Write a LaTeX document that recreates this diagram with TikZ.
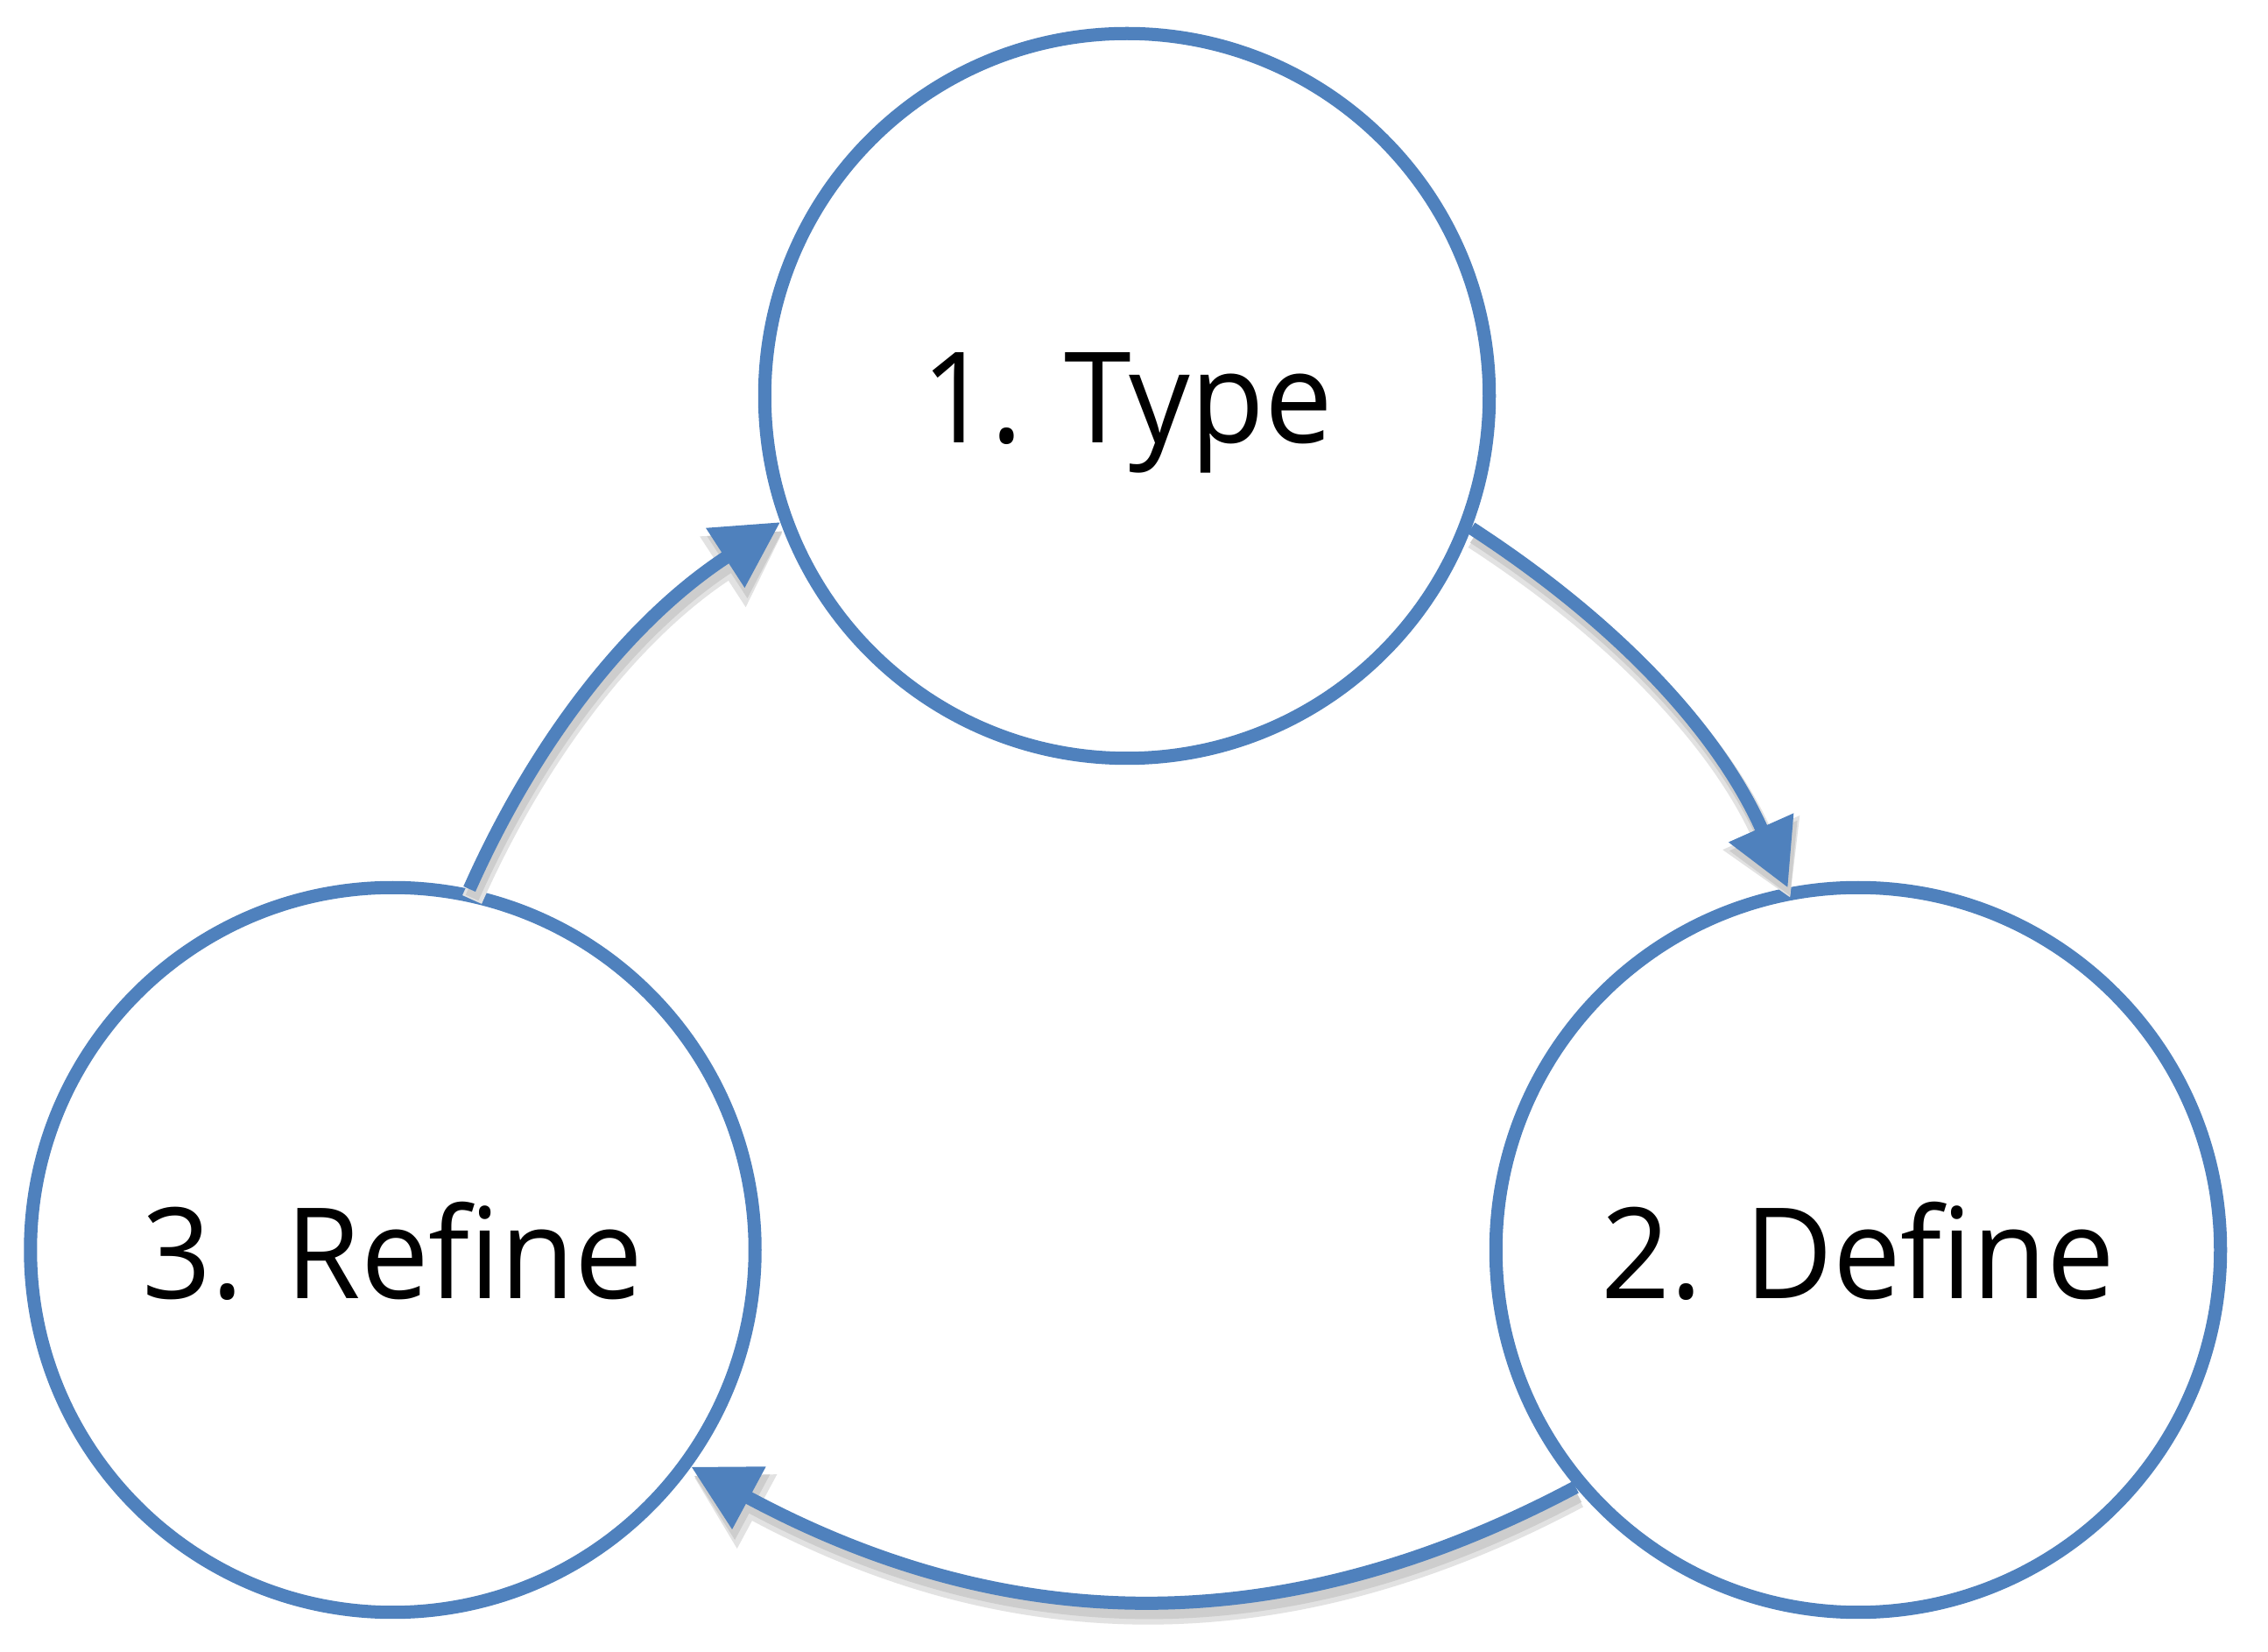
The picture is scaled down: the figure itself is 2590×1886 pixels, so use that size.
\documentclass[tikz,border=0pt]{standalone}
\usepackage{fontspec}
\setmainfont[Ligatures=NoCommon]{Open Sans}
\usetikzlibrary{arrows.meta}
\definecolor{cycblue}{HTML}{4F81BD}
\definecolor{shadowgray}{HTML}{CDCDCD}
\definecolor{shadowlight}{HTML}{E2E2E2}
\begin{document}
\begin{tikzpicture}[x=0.01cm,y=-0.01cm,
  stage/.style={circle, draw=cycblue, line width=0.15cm, minimum size=8.27cm, inner sep=0pt},
  lbl/.style={anchor=base, inner sep=0pt, xscale=0.96, font=\fontsize{41}{50}\selectfont},
  flow/.style={draw=cycblue, line width=0.15cm, -{Triangle[length=0.75cm,width=0.77cm]}},
  flowshadow/.style={draw=shadowgray, line width=0.16cm, -{Triangle[length=0.76cm,width=0.8cm]}, transform canvas={shift={(0.03cm,-0.1cm)}}},
  flowhalo/.style={draw=shadowlight, line width=0.24cm, -{Triangle[length=0.82cm,width=0.9cm]}, transform canvas={shift={(0.03cm,-0.12cm)}}},
  arcish/.style={looseness=0.92}
]
\useasboundingbox (0,0) rectangle (2590,1886);
\fill[white] (0,0) rectangle (2590,1886);
\node[stage] (type) at (1287,452) {};
\node[stage] (define) at (2122,1427) {};
\node[stage] (refine) at (448.5,1427) {};
\node[lbl] (typelbl) at ([yshift=-0.53cm]type.center) {1. Type};
\node[lbl] (definelbl) at ([yshift=-0.55cm]define.center) {2. Define};
\node[lbl] (refinelbl) at ([yshift=-0.55cm]refine.center) {3. Refine};
% shadows
\draw[flowhalo] (type.-21.3) to[out=-33,in=114,arcish] (define.101.9);
\draw[flowhalo] (define.220.1) to[out=208,in=-28.3] (refine.-36.5);
\draw[flowhalo] (refine.78.3) to[out=66,in=213,arcish] (type.200.8);
\draw[flowshadow] (type.-21.3) to[out=-33,in=114,arcish] (define.101.9);
\draw[flowshadow] (define.220.1) to[out=208,in=-28.3] (refine.-36.5);
\draw[flowshadow] (refine.78.3) to[out=66,in=213,arcish] (type.200.8);
% arrows
\draw[flow] (type.-21.3) to[out=-33,in=114,arcish] (define.101.9);
\draw[flow] (define.220.1) to[out=208,in=-28.3] (refine.-36.5);
\draw[flow] (refine.78.3) to[out=66,in=213,arcish] (type.200.8);
\end{tikzpicture}
\end{document}
